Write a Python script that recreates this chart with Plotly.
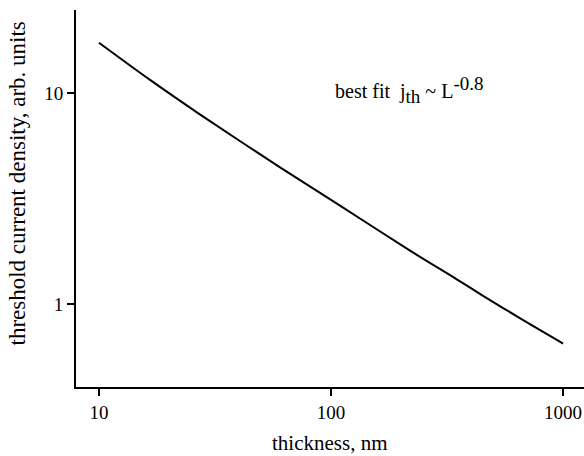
import plotly.graph_objects as go

thickness = [10, 16.6, 27.2, 60.3, 106, 219, 348, 452, 673, 1000]
density = [17.3, 11.53, 7.92, 4.44, 2.99, 1.79, 1.31, 1.094, 0.839, 0.65]

x_ticks = [10, 100, 1000]
y_ticks = [1, 10]

FONT = "Liberation Serif"

fig = go.Figure()
fig.add_trace(go.Scatter(x=thickness, y=density, mode="lines",
                         line=dict(color="black", width=2, shape="spline", smoothing=0.8),
                         showlegend=False))

fig.update_layout(
    width=584, height=456,
    margin=dict(l=76, r=0, t=10, b=69),
    paper_bgcolor="white", plot_bgcolor="white",
    font=dict(family=FONT, size=19, color="black"),
    xaxis=dict(type="log", range=[0.901, 3.09], showline=True, linecolor="black", linewidth=2,
               mirror=False, showgrid=False, zeroline=False, ticks="outside", ticklen=7,
               tickwidth=2, tickcolor="black", tickvals=x_ticks,
               ticktext=[str(v) for v in x_ticks],
               tickfont=dict(family=FONT, size=19, color="black")),
    yaxis=dict(type="log", range=[-0.393, 1.393], showline=True, linecolor="black", linewidth=2,
               mirror=False, showgrid=False, zeroline=False, ticks="outside", ticklen=7,
               tickwidth=2, tickcolor="black", tickvals=y_ticks,
               ticktext=[str(v) for v in y_ticks],
               tickfont=dict(family=FONT, size=19, color="black")),
    annotations=[
        dict(x=2.009, y=1.014, xref="x", yref="y", xanchor="left", yanchor="middle",
             text=("best fit  j<sub><span style='font-size:19px'>th</span></sub>"
                   " ~ L<sup><span style='font-size:19px'>-0.8</span></sup>"),
             showarrow=False, font=dict(family=FONT, size=20, color="black")),
        dict(x=0.5, y=-0.1485, xref="paper", yref="paper", xanchor="center", yanchor="middle",
             text="thickness, nm", showarrow=False,
             font=dict(family=FONT, size=21, color="black")),
        dict(x=-0.116, y=0.54, xref="paper", yref="paper", xanchor="center", yanchor="middle",
             text="threshold current density, arb. units", textangle=-90, showarrow=False,
             font=dict(family=FONT, size=23, color="black")),
    ],
)

fig.write_html("out.html")
